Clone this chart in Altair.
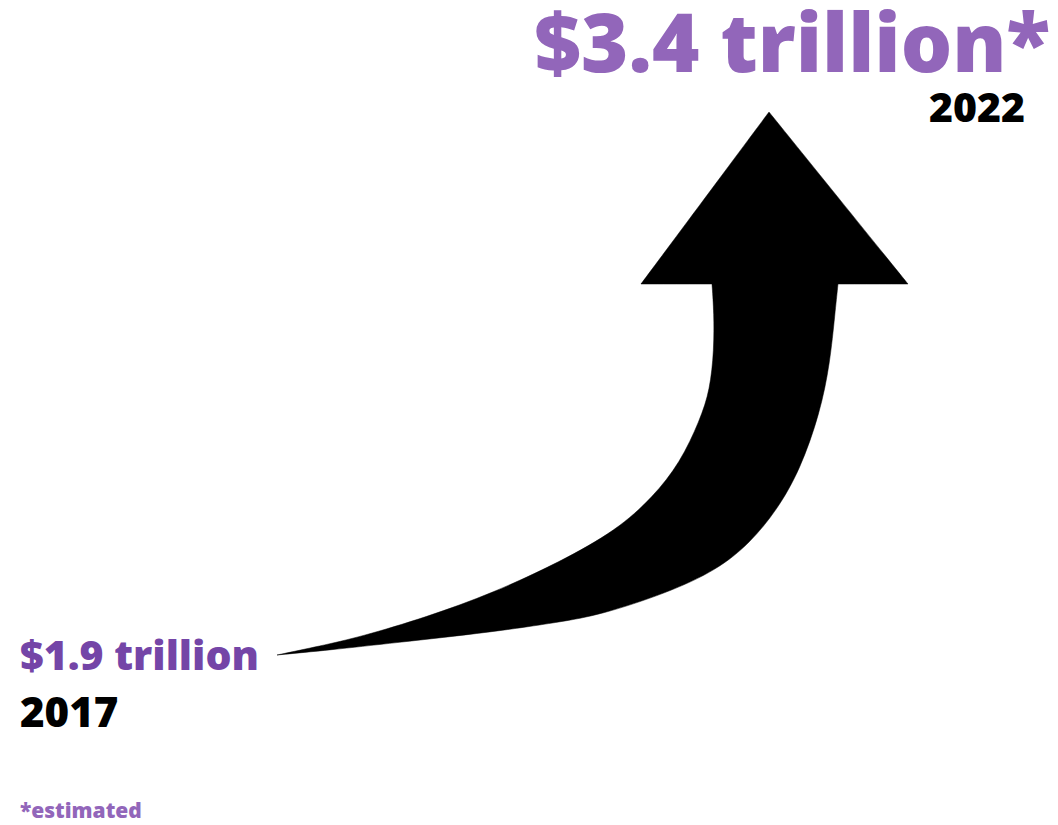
import altair as alt
import pandas as pd

# ---- values ----
VALUE_LABELS = ["$1.9 trillion", "$3.4 trillion*"]
YEAR_LABELS = ["2017", "2022"]
NOTE = "*estimated"

# ---- arrow outline (artwork units, y grows downward); corner points tripled ----
INNER_X = [269, 269, 269, 312, 352, 419, 485, 552, 609, 645, 672, 692, 702, 706, 706, 704, 704, 704]
INNER_Y = [647, 647, 647, 638, 629, 609, 585, 554, 522, 489, 455, 412, 382, 342, 305, 276, 276, 276]
HEAD_X = [633, 633, 633, 761, 761, 761, 900, 900, 900]
HEAD_Y = [276, 276, 276, 104, 104, 104, 276, 276, 276]
OUTER_X = [830, 830, 830, 827, 822, 812, 792, 769, 742, 709, 659, 592, 552, 485, 385, 322, 269]
OUTER_Y = [276, 276, 276, 305, 355, 405, 462, 502, 535, 562, 585, 607, 614, 624, 635, 642, 647]

xs = INNER_X + HEAD_X + OUTER_X
ys = INNER_Y + HEAD_Y + OUTER_Y
arrow_df = pd.DataFrame({"x": xs, "y": ys, "i": list(range(len(xs)))})

W, H = 1042, 817
xscale = alt.Scale(domain=[0, W], nice=False, zero=False)
yscale = alt.Scale(domain=[0, H], nice=False, zero=False, reverse=True)

arrow = alt.Chart(arrow_df).mark_line(
    fill="black", stroke="black", strokeWidth=0.5, interpolate="basis"
).encode(
    x=alt.X("x:Q", scale=xscale, axis=None),
    y=alt.Y("y:Q", scale=yscale, axis=None),
    order=alt.Order("i:Q"),
)

FONT = "Noto Sans"

def label(text, x, y, size, color, align):
    return alt.Chart(pd.DataFrame({"t": [text]})).mark_text(
        align=align, baseline="alphabetic", fontSize=size, color=color,
        font=FONT, fontWeight=900,
    ).encode(x=alt.value(x), y=alt.value(y), text="t:N")

PURPLE = "#9266ba"
PURPLE_DARK = "#7445a7"

texts = [
    label(VALUE_LABELS[1], 1042, 64, 81, PURPLE, "right"),
    label(YEAR_LABELS[1], 1017, 114, 41, "black", "right"),
    label(VALUE_LABELS[0], 12, 662, 41, PURPLE_DARK, "left"),
    label(YEAR_LABELS[0], 12, 719, 42, "black", "left"),
    label(NOTE, 12, 810, 21, PURPLE, "left"),
]

chart = alt.layer(arrow, *texts).properties(
    width=W, height=H, autosize=alt.AutoSizeParams(type="none"), padding=0,
    background="white",
).configure_view(stroke=None)

chart.save("out.html", embed_options={"renderer": "svg", "actions": False})
